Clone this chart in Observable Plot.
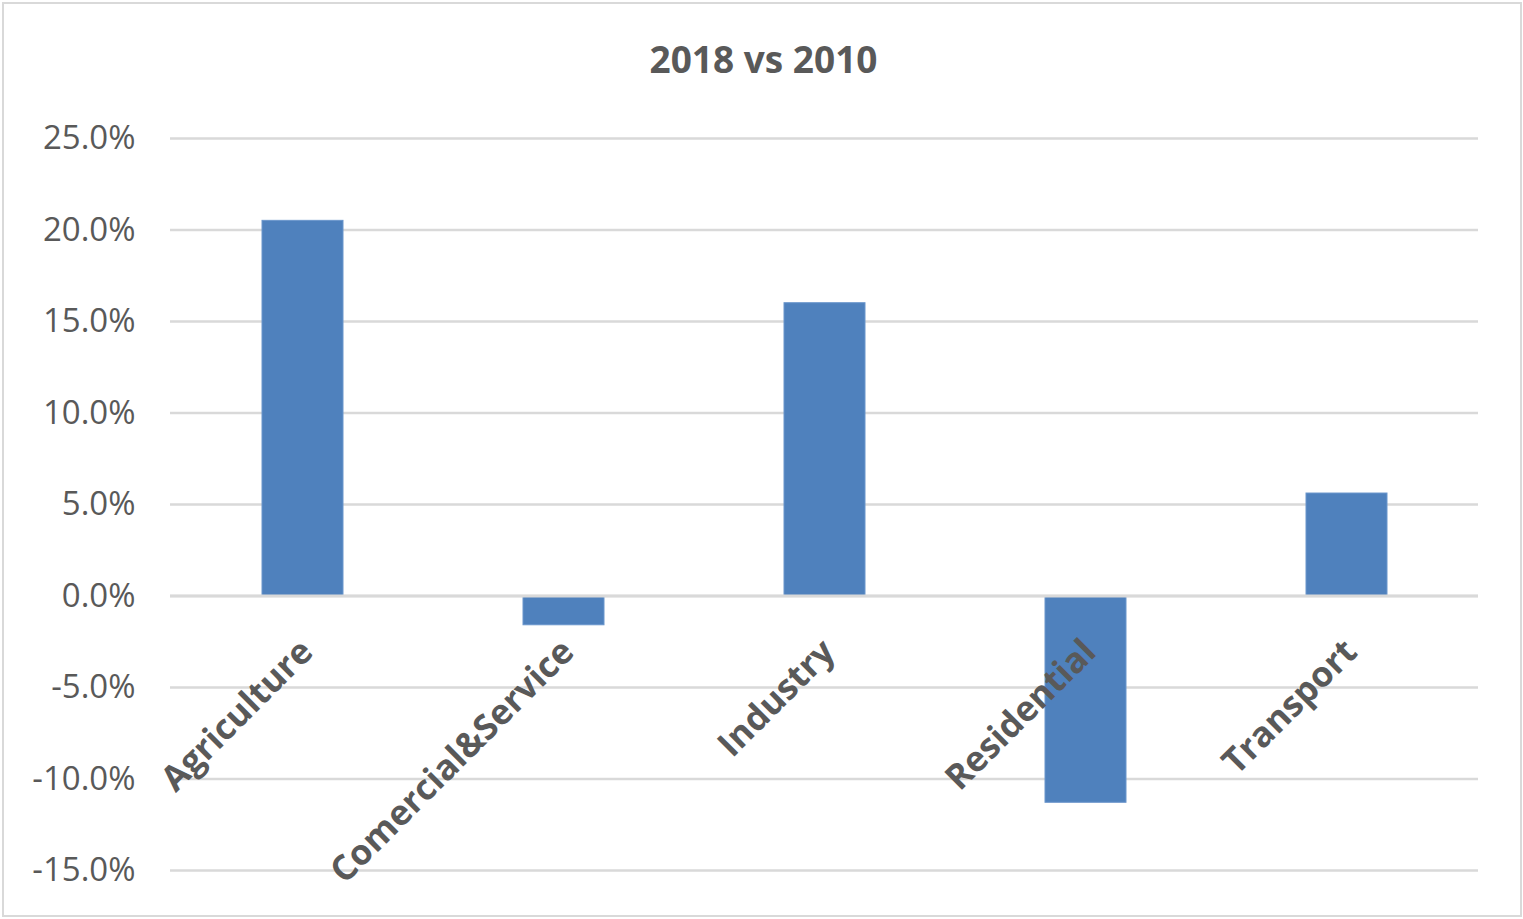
<!DOCTYPE html>
<html>
<head>
<meta charset="utf-8">
<script src="https://cdn.jsdelivr.net/npm/d3@7"></script>
<script src="https://cdn.jsdelivr.net/npm/@observablehq/plot@0.6"></script>
<style>
  html, body { margin: 0; padding: 0; background: #fff; }
  #wrap { position: relative; width: 1523px; height: 919px; overflow: hidden; background: #fff; }
  #frame { position: absolute; left: 2px; top: 2px; width: 1520px; height: 915px; box-sizing: border-box; border: 2px solid #d9d9d9; pointer-events: none; }
  #title { position: absolute; left: 0; top: 40px; width: 1523px; text-align: center; font-family: "Open Sans", sans-serif; font-weight: 700; font-size: 37px; line-height: 38px; color: #595959; padding-left: 4px; box-sizing: border-box; }
  #chart { position: absolute; left: 0; top: 100px; }
</style>
</head>
<body>
<div id="wrap">
  <div id="title">2018 vs 2010</div>
  <div id="chart"></div>
  <div id="frame"></div>
</div>
<script>
const categories = ["Agriculture", "Comercial&Service", "Industry", "Residential", "Transport"];
const values = [0.205, -0.016, 0.160, -0.113, 0.056];
const yTicks = [-0.15, -0.10, -0.05, 0, 0.05, 0.10, 0.15, 0.20, 0.25];

const data = categories.map((c, i) => ({category: c, value: values[i]}));
const fmt = d => (d * 100).toFixed(1) + "%";

const chart = Plot.plot({
  width: 1523,
  height: 819,
  marginLeft: 170,
  marginRight: 45,
  marginTop: 38,
  marginBottom: 49,
  style: {fontFamily: "Open Sans, sans-serif", color: "#595959", background: "transparent"},
  x: {domain: categories, paddingInner: 0.69, paddingOuter: 0.345, axis: null},
  y: {domain: [-0.15, 0.25], ticks: yTicks, tickFormat: fmt, tickSize: 0, tickPadding: 35, label: null},
  marks: [
    Plot.ruleY(yTicks, {stroke: "#d9d9d9", strokeWidth: 2.5}),
    Plot.axisY({ticks: yTicks, tickFormat: fmt, tickSize: 0, tickPadding: 35, label: null, fontSize: 33, fill: "#595959"}),
    Plot.barY(data, {x: "category", y: "value", fill: "#4f81bd", stroke: "#6a96cc", strokeWidth: 1}),
    Plot.ruleY([0], {stroke: "#d9d9d9", strokeWidth: 3}),
    Plot.text(data, {x: "category", y: () => 0, text: "category", rotate: -45, textAnchor: "end", fontSize: 35, fontWeight: 700, fill: "#595959", dx: 4, dy: 50})
  ]
});
document.getElementById("chart").appendChild(chart);
</script>
</body>
</html>
